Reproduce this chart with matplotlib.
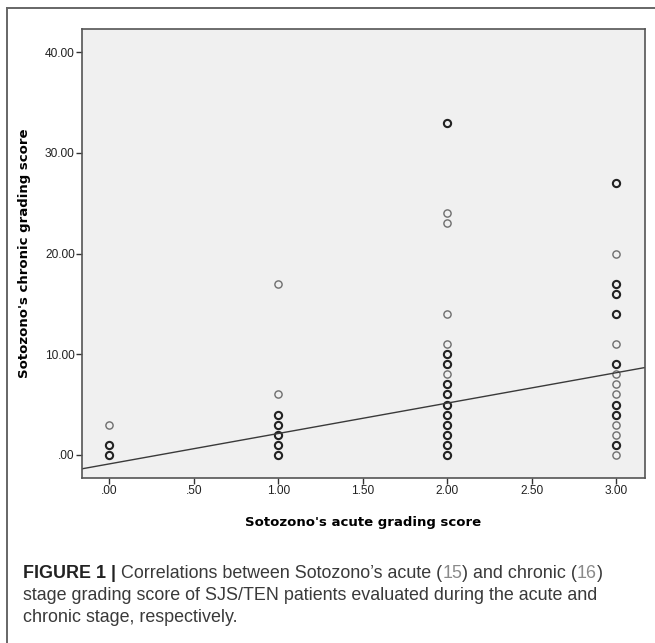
import numpy as np
import matplotlib
matplotlib.use("Agg")
import matplotlib.pyplot as plt
from matplotlib.lines import Line2D

acute_grades = [0, 1, 2, 3]
chronic_0 = [0, 0, 1, 1, 3]
chronic_1 = [0, 0, 1, 1, 2, 2, 3, 3, 4, 4, 6, 17]
chronic_2 = [0, 0, 1, 1, 2, 2, 3, 3, 4, 4, 5, 5, 6, 6, 7, 7, 8, 9, 9, 10, 10, 11, 14, 23, 24, 33, 33]
chronic_3 = [0, 1, 1, 2, 3, 4, 4, 5, 5, 6, 7, 8, 9, 9, 11, 14, 14, 16, 16, 17, 17, 20, 27, 27]
fit_slope = 3.02
fit_intercept = -0.90

xticks = [0, 0.5, 1, 1.5, 2, 2.5, 3]
yticks = [0, 10, 20, 30, 40]

def lab(v):
    s = "%.2f" % v
    if s.startswith("0"):
        s = s[1:]
    return s

fig = plt.figure(figsize=(6.55, 6.43), dpi=100)
ax = fig.add_axes([0.1247, 0.2566, 0.86, 0.6983])
ax.set_facecolor("#f0f0f0")

for g, vals in zip(acute_grades, [chronic_0, chronic_1, chronic_2, chronic_3]):
    u, c = np.unique(vals, return_counts=True)
    single = u[c == 1]
    multi = u[c > 1]
    ax.plot([g] * len(single), single, "o", ms=5.2, mfc="none", mec="#6e6e6e", mew=1.0)
    ax.plot([g] * len(multi), multi, "o", ms=5.2, mfc="none", mec="#222222", mew=1.5)

ax.axline((0, fit_intercept), slope=fit_slope, color="#3a3a3a", lw=1.0)

ax.set_xlim(-0.163, 3.17)
ax.set_ylim(-2.3, 42.3)
ax.set_xticks(xticks)
ax.set_xticklabels([lab(v) for v in xticks])
ax.set_yticks(yticks)
ax.set_yticklabels([lab(v) for v in yticks])
ax.tick_params(direction="out", length=4, width=1, color="#333333",
               labelsize=8.6, labelcolor="#222222", pad=1)
for t in ax.get_xticklabels() + ax.get_yticklabels():
    t.set_fontfamily("Liberation Sans")
for s in ax.spines.values():
    s.set_color("#555555")
    s.set_linewidth(1.2)

ax.set_xlabel("Sotozono's acute grading score", fontsize=9.5, fontweight="bold",
              family="DejaVu Sans", labelpad=14)
ax.set_ylabel("Sotozono's chronic grading score", fontsize=9.5, fontweight="bold",
              family="DejaVu Sans", labelpad=10)

# outer frame of the figure panel
fig.add_artist(Line2D([7 / 655, 1], [1 - 8 / 643, 1 - 8 / 643], transform=fig.transFigure,
                      color="#666666", lw=1.4))
fig.add_artist(Line2D([7 / 655, 7 / 655], [0, 1 - 8 / 643], transform=fig.transFigure,
                      color="#666666", lw=1.4))

# caption
cap_font = ["Liberation Sans", "DejaVu Sans"]
fs = 12.85
prev = fig.text(23 / 655, 1 - 578 / 643, "FIGURE 1 | ", fontsize=fs, fontweight="bold",
                color="#222222", family=cap_font, va="baseline")
pieces = [("Correlations between Sotozono\u2019s acute (", "#3a3a3a"), ("15", "#8a8a8a"),
          (") and chronic (", "#3a3a3a"), ("16", "#8a8a8a"), (")", "#3a3a3a")]
for txt, col in pieces:
    prev = plt.annotate(txt, xy=(1, 0), xycoords=prev, va="bottom", ha="left",
                        fontsize=fs, color=col, family=cap_font, annotation_clip=False)
fig.text(23 / 655, 1 - 600 / 643, "stage grading score of SJS/TEN patients evaluated during the acute and",
         fontsize=fs, color="#3a3a3a", family=cap_font, va="baseline")
fig.text(23 / 655, 1 - 622 / 643, "chronic stage, respectively.",
         fontsize=fs, color="#3a3a3a", family=cap_font, va="baseline")

fig.savefig("out.png", dpi=100)
